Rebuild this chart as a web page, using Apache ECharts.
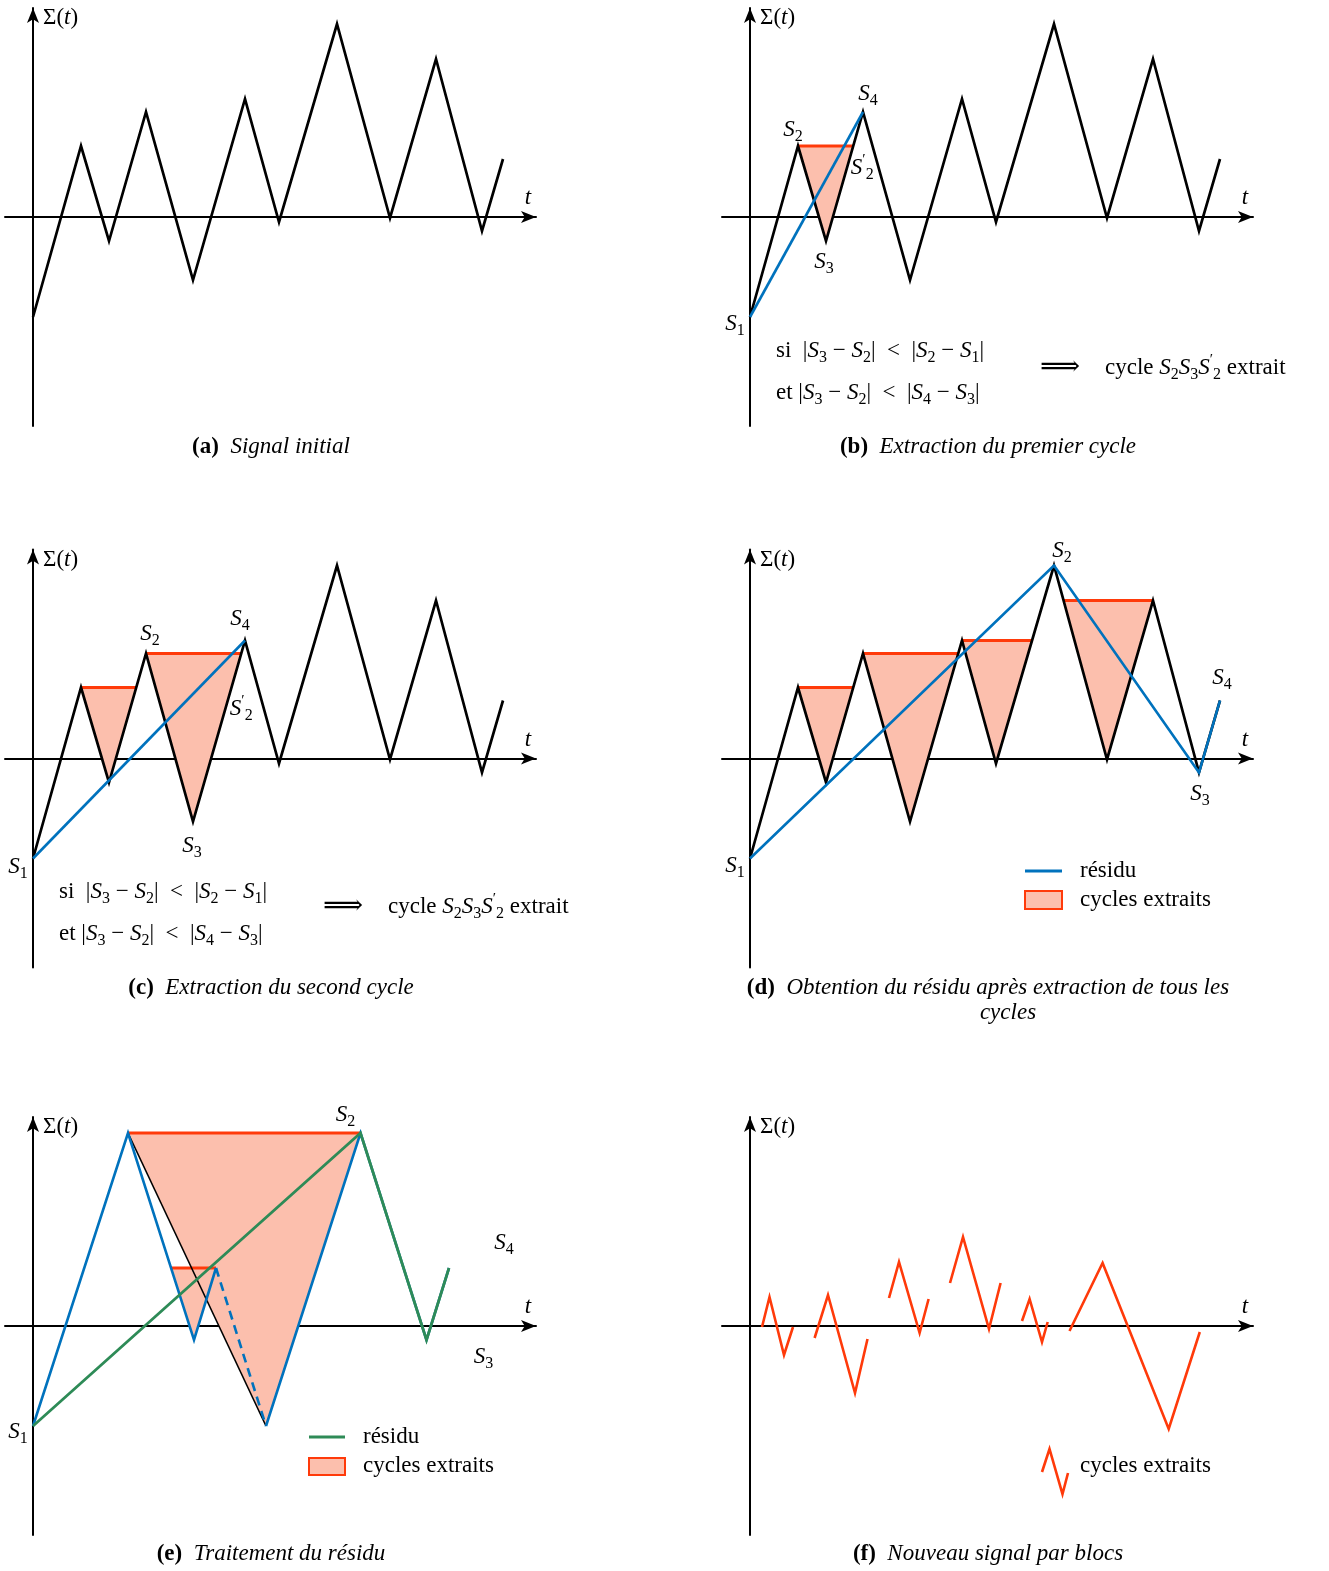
<!DOCTYPE html>
<html><head><meta charset="utf-8">
<script src="https://cdn.jsdelivr.net/npm/echarts@6/dist/echarts.min.js"></script>
<style>html,body{margin:0;padding:0;background:#fff}#c{width:1329px;height:1571px}</style>
</head><body><div id="c"></div>
<script>
// ---------------- DATA ----------------
// initial signal Σ(t): turning points (panels a-d)
const sigT = [0, 4.8, 7.6, 11.3, 16.0, 21.2, 24.6, 30.4, 35.7, 40.3, 44.9, 47.0];
const sigV = [-10.0, 7.1, -2.4, 10.5, -6.3, 11.8, -0.5, 19.3, -0.1, 15.8, -1.4, 5.8];
// residual (panel d): indices into the signal
const residuIdx = [0, 7, 10, 11];
// residual repeated twice (panel e)
const eT = [0, 9.5, 16.1, 18.3, 23.3, 32.75, 39.35, 41.6];
const eV = [-10.0, 19.3, -1.4, 5.8, -10.0, 19.3, -1.4, 5.8];
// extracted cycles: [reference extremum, middle extremum]
const cyclesB = [[1, 2]];
const cyclesC = [[1, 2], [3, 4]];
const cyclesD = [[1, 2], [3, 4], [5, 6], [9, 8]];
const cyclesE = [[1, 4], [3, 2]];
// panel f: blocks of extracted cycles
const blocksT = [[1.2, 1.95, 3.4, 4.3], [6.46, 7.8, 10.5, 11.75], [13.9, 14.9, 16.96, 17.86],
                 [20.0, 21.3, 23.9, 25.06], [27.2, 27.96, 29.2, 29.77], [31.95, 35.26, 41.87, 44.98]];
const blocksV = [[-0.1, 2.9, -2.9, -0.1], [-1.2, 3.1, -6.7, -1.3], [2.8, 6.4, -0.7, 2.7],
                 [4.3, 8.9, -0.3, 4.3], [0.5, 2.7, -1.6, 0.4], [-0.5, 6.3, -10.3, -0.6]];
const captionTags = ['(a)', '(b)', '(c)', '(d)', '(e)', '(f)'];
const captionTexts = ['Signal initial', 'Extraction du premier cycle', 'Extraction du second cycle',
  'Obtention du résidu après extraction de tous les', 'Traitement du résidu', 'Nouveau signal par blocs'];

// ---------------- STYLE / LAYOUT ----------------
const SERIF = '"Liberation Serif","DejaVu Serif",serif';
const FS = 23;
const C_BLUE = '#0072BD', C_GREEN = '#2E8B57', C_RED = '#FF3A0A', C_FILL = '#FCBFAD';
const X0 = [33, 750], Y0 = [217, 758.5, 1326];
const panels = [[0,0],[1,0],[0,1],[1,1],[0,2],[1,2]];

const RICH = {
  it: {fontFamily: SERIF, fontStyle: 'italic', fontSize: FS, lineHeight: 30, color: '#000'},
  rm: {fontFamily: SERIF, fontSize: FS, lineHeight: 30, color: '#000'},
  sub: {fontFamily: SERIF, fontSize: 16, lineHeight: 16, verticalAlign: 'bottom', color: '#000'},
  pr: {fontFamily: SERIF, fontSize: 15, lineHeight: 22, verticalAlign: 'top', color: '#000'},
  b: {fontFamily: SERIF, fontWeight: 'bold', fontSize: FS, lineHeight: 30, color: '#000'},
  i: {fontFamily: SERIF, fontStyle: 'italic', fontSize: FS, lineHeight: 30, color: '#000'}
};
function mt(s) {
  return s.replace(/S('?)_(\d)/g, (m, p, d) => '{it|S}' + (p ? '{pr|′}' : '') + '{sub|' + d + '}');
}
function P(T, V, k) { return [T[k], V[k]]; }
function pts(T, V, idx) { return (idx || T.map((_, k) => k)).map(k => P(T, V, k)); }
function cross(T, V, i, j, lvl) {
  const f = (lvl - V[i]) / (V[j] - V[i]);
  return [T[i] + f * (T[j] - T[i]), lvl];
}
function cyclePoly(T, V, c) {
  const p = c[0], v = c[1];
  if (p < v) return [P(T, V, p), P(T, V, v), cross(T, V, v, v + 1, V[p])];
  return [cross(T, V, v - 1, v, V[p]), P(T, V, v), P(T, V, p)];
}

const series = [];
function line(i, data, color, width, extra) {
  series.push(Object.assign({type: 'line', xAxisIndex: i, yAxisIndex: i, data: data, showSymbol: false,
    symbol: 'none', silent: true, clip: false, z: 3,
    lineStyle: {color: color, width: width, join: 'miter', miterLimit: 10}}, extra || {}));
}
function fills(i, polys) {
  series.push({type: 'custom', xAxisIndex: i, yAxisIndex: i, silent: true, z: 1, clip: false,
    data: polys.map(p => p[1]),
    renderItem: function (params, api) {
      const Q = polys[params.dataIndex].map(p => api.coord(p));
      return {type: 'group', children: [
        {type: 'polygon', shape: {points: Q}, style: {fill: C_FILL}},
        {type: 'line', shape: {x1: Q[0][0], y1: Q[0][1], x2: Q[2][0], y2: Q[2][1]},
         style: {stroke: C_RED, lineWidth: 3}}
      ]};
    }});
}
function labels(i, list) {
  series.push({type: 'scatter', xAxisIndex: i, yAxisIndex: i, symbolSize: 0.1, silent: true, z: 6,
    itemStyle: {color: '#000', opacity: 1},
    label: {show: true, position: 'inside', fontFamily: SERIF, fontSize: FS, lineHeight: 30, color: '#000',
      opacity: 1, textBorderWidth: 0, rich: RICH},
    data: list.map(l => ({value: l[0], label: {formatter: mt(l[1]), offset: l[2]}}))});
}

// panel a
line(0, pts(sigT, sigV), '#000', 2.7);
// panel b
const polyB = cyclesB.map(c => cyclePoly(sigT, sigV, c));
fills(1, polyB);
line(1, pts(sigT, sigV), '#000', 2.7);
line(1, pts(sigT, sigV, [0, 3]), C_BLUE, 2.6, {z: 4});
labels(1, [[P(sigT, sigV, 0), 'S_1', [-15, 7]], [P(sigT, sigV, 1), 'S_2', [-5, -16]],
  [polyB[0][2], "S'_2", [9, 22]], [P(sigT, sigV, 2), 'S_3', [-2, 21]], [P(sigT, sigV, 3), 'S_4', [5, -18]]]);
// panel c
const polyC = cyclesC.map(c => cyclePoly(sigT, sigV, c));
fills(2, polyC);
line(2, pts(sigT, sigV), '#000', 2.7);
line(2, pts(sigT, sigV, [0, 5]), C_BLUE, 2.6, {z: 4});
labels(2, [[P(sigT, sigV, 0), 'S_1', [-15, 8]], [P(sigT, sigV, 3), 'S_2', [4, -20]],
  [polyC[1][2], "S'_2", [0, 55]], [P(sigT, sigV, 4), 'S_3', [-1, 24]], [P(sigT, sigV, 5), 'S_4', [-5, -22]]]);
// panel d
fills(3, cyclesD.map(c => cyclePoly(sigT, sigV, c)));
line(3, pts(sigT, sigV), '#000', 2.7);
line(3, pts(sigT, sigV, residuIdx), C_BLUE, 2.6, {z: 4});
labels(3, [[P(sigT, sigV, 0), 'S_1', [-15, 7]], [P(sigT, sigV, 7), 'S_2', [8, -15]],
  [P(sigT, sigV, 10), 'S_3', [1, 21]], [P(sigT, sigV, 11), 'S_4', [2, -23]]]);
// panel e
fills(4, cyclesE.map(c => cyclePoly(eT, eV, c)));
line(4, pts(eT, eV, [1, 4]), '#000', 1.6);
line(4, pts(eT, eV, [0, 1, 2, 3]), C_BLUE, 2.6, {z: 4});
line(4, pts(eT, eV, [3, 4]), C_BLUE, 2.6, {z: 4, lineStyle: {color: C_BLUE, width: 2.6, type: [9, 6]}});
line(4, pts(eT, eV, [4, 5, 6, 7]), C_BLUE, 2.6, {z: 4});
line(4, pts(eT, eV, [0, 5, 6, 7]), C_GREEN, 2.8, {z: 5});
labels(4, [[P(eT, eV, 0), 'S_1', [-15, 6]], [P(eT, eV, 5), 'S_2', [-15, -18]],
  [P(eT, eV, 6), 'S_3', [57, 17]], [P(eT, eV, 7), 'S_4', [55, -25]]]);
// panel f
blocksT.forEach((bt, k) => line(5, pts(bt, blocksV[k]), C_RED, 2.6));

// ---------------- GRAPHICS (texts / legends) ----------------
const graphic = [];
function txt(x, y, text, align, extra) {
  graphic.push({type: 'text', x: x, y: y, silent: true, z: 10,
    style: Object.assign({text: text, fontFamily: SERIF, fontSize: FS, lineHeight: 30, fill: '#000',
      align: align || 'left', verticalAlign: 'middle', textAlign: align || 'left', textVerticalAlign: 'middle', rich: RICH}, extra || {})});
}
panels.forEach((p, i) => {
  const x0 = X0[p[0]], y0 = Y0[p[1]];
  txt(x0 + 10, y0 - 199, 'Σ({it|t})', 'left');
  txt(x0 + 495, y0 - 19, '{it|t}', 'center');
});
const capY = [447, 988, 1554];
panels.forEach((p, i) => {
  const cx = p[0] ? 988 : 271;
  txt(cx, capY[p[1]], '{b|' + captionTags[i] + '}  {i|' + captionTexts[i] + '}', 'center');
});
txt(1008, 1013, '{i|cycles}', 'center');
// conditions (b, c)
[[776, 351, 1040, 1105, 368], [59, 892, 323, 388, 907]].forEach(c => {
  txt(c[0], c[1], mt('si  |S_3 − S_2|  <  |S_2 − S_1|'), 'left');
  txt(c[0], c[1] + 42, mt('et |S_3 − S_2|  <  |S_4 − S_3|'), 'left');
  txt(c[2], c[4], '⟹', 'left', {fontSize: 28});
  txt(c[3], c[4], mt("cycle S_2S_3S'_2 extrait"), 'left');
});
// legends
graphic.push({type: 'line', shape: {x1: 1025, y1: 871, x2: 1062, y2: 871}, style: {stroke: C_BLUE, lineWidth: 3}});
txt(1080, 871, 'résidu', 'left');
graphic.push({type: 'rect', shape: {x: 1025, y: 891, width: 37, height: 18}, style: {fill: C_FILL, stroke: C_RED, lineWidth: 2}});
txt(1080, 900, 'cycles extraits', 'left');
graphic.push({type: 'line', shape: {x1: 309, y1: 1437, x2: 345, y2: 1437}, style: {stroke: C_GREEN, lineWidth: 3}});
txt(363, 1437, 'résidu', 'left');
graphic.push({type: 'rect', shape: {x: 309, y: 1458, width: 36, height: 17}, style: {fill: C_FILL, stroke: C_RED, lineWidth: 2}});
txt(363, 1466, 'cycles extraits', 'left');
graphic.push({type: 'polyline', shape: {points: [[1042, 1472], [1049.5, 1449], [1062.5, 1494], [1068, 1473]]},
  style: {stroke: C_RED, lineWidth: 2.6, fill: null}});
txt(1080, 1466, 'cycles extraits', 'left');

const axisCommon = {
  axisTick: {show: false}, axisLabel: {show: false}, splitLine: {show: false},
  axisLine: {show: true, onZero: true, symbol: ['none', 'arrow'], symbolSize: [9, 15], lineStyle: {color: '#000', width: 2}}
};
const option = {
  animation: false,
  grid: panels.map(p => ({left: X0[p[0]] - 28, top: Y0[p[1]] - 209, width: 531, height: 418})),
  xAxis: panels.map((p, i) => Object.assign({type: 'value', gridIndex: i, min: -2.8, max: 50.3}, axisCommon)),
  yAxis: panels.map((p, i) => Object.assign({type: 'value', gridIndex: i, min: -20.9, max: 20.9}, axisCommon)),
  series: series,
  graphic: graphic
};
const chart = echarts.init(document.getElementById('c'), null, {renderer: 'canvas'});
chart.setOption(option);
</script></body></html>
